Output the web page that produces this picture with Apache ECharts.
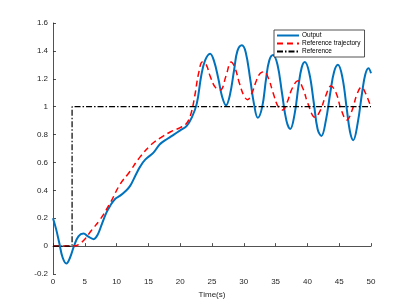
<!DOCTYPE html>
<html>
<head>
<meta charset="utf-8">
<script src="https://cdn.jsdelivr.net/npm/echarts@6/dist/echarts.min.js"></script>
<style>html,body{margin:0;padding:0;background:#fff}#c{width:410px;height:308px}</style>
</head>
<body>
<div id="c"></div>
<script>
const outputT = [0,0.5,1.0,1.5,2.1,2.7,3.3,4.0,4.8,5.5,6.4,7.0,7.7,8.4,9.0,9.8,10.5,11.3,12.1,13.0,13.7,14.5,15.8,16.8,18.0,19.0,20.0,21.0,21.8,22.6,23.3,23.9,24.7,25.3,26.0,26.6,27.2,27.8,28.5,29.0,29.7,30.3,31.0,31.6,32.2,32.9,33.5,34.0,34.6,35.3,36.0,36.7,37.3,38.0,38.6,39.1,39.6,40.3,41.0,41.6,42.2,42.9,43.6,44.2,44.8,45.5,46.2,46.7,47.2,47.9,48.6,49.1,49.6,50.0];
const outputY = [0.20,0.12,0.02,-0.08,-0.125,-0.08,0.0,0.07,0.09,0.07,0.05,0.08,0.16,0.24,0.29,0.34,0.36,0.39,0.43,0.51,0.57,0.62,0.67,0.73,0.77,0.80,0.83,0.86,0.92,1.02,1.22,1.33,1.38,1.33,1.20,1.07,1.01,1.08,1.27,1.40,1.44,1.39,1.20,1.02,0.92,1.00,1.20,1.33,1.37,1.30,1.10,0.90,0.84,0.95,1.15,1.28,1.32,1.24,1.03,0.84,0.79,0.90,1.10,1.25,1.30,1.21,0.98,0.82,0.76,0.88,1.10,1.23,1.275,1.24];
const trajT = [0,3.2,4.0,5.0,6.0,7.4,9.0,10.5,12.0,13.7,15.5,17.0,18.5,20.0,21.0,21.7,22.3,22.9,23.5,24.1,24.7,25.5,26.3,27.2,28.0,28.6,29.3,30.0,30.6,31.3,32.0,32.6,33.2,33.9,34.6,35.4,36.1,36.8,37.6,38.5,39.3,40.1,41.2,42.0,42.9,43.7,44.5,45.3,46.2,47.0,47.8,48.5,49.2,50.0];
const trajY = [0,0,0.01,0.05,0.11,0.19,0.31,0.44,0.53,0.64,0.73,0.78,0.82,0.85,0.88,0.95,1.08,1.24,1.32,1.30,1.22,1.14,1.12,1.22,1.32,1.28,1.17,1.08,1.05,1.10,1.19,1.24,1.25,1.20,1.10,1.00,0.976,1.03,1.13,1.186,1.13,1.02,0.924,0.97,1.08,1.148,1.10,0.98,0.904,0.97,1.09,1.14,1.09,0.995];
const refT = [0,3,3,50];
const refY = [0,0,1,1];
const xTicks = {min:0, max:50, interval:5};
const yTicks = {min:-0.2, max:1.6, interval:0.2};

const zip = (a,b) => a.map((v,i)=>[v,b[i]]);
const font = 'Liberation Sans, Arial, sans-serif';
const axisCol = '#262626';
const chart = echarts.init(document.getElementById('c'), null, {renderer:'canvas'});
chart.setOption({
  animation:false,
  backgroundColor:'#fff',
  grid:{left:53,right:39,top:23,bottom:34,containLabel:false},
  legend:{
    orient:'vertical', left:274, top:30,
    itemWidth:22, itemHeight:8, itemGap:1,
    padding:[2,4,2,2],
    backgroundColor:'#fff', borderColor:'#262626', borderWidth:0.8, borderRadius:0,
    itemStyle:{opacity:0},
    textStyle:{fontFamily:font, fontSize:6.5, color:'#000', padding:[0,0,0,-2]},
    data:['Output','Reference trajectory','Reference']
  },
  xAxis:{
    type:'value', min:xTicks.min, max:xTicks.max, interval:xTicks.interval,
    name:'Time(s)', nameLocation:'middle', nameGap:14,
    nameTextStyle:{fontFamily:font, fontSize:8, color:axisCol},
    axisLine:{lineStyle:{color:axisCol, width:0.8}},
    axisTick:{inside:true, length:3, lineStyle:{color:axisCol, width:0.8}},
    axisLabel:{fontFamily:font, fontSize:8, color:axisCol, margin:4},
    splitLine:{show:false}
  },
  yAxis:{
    type:'value', min:yTicks.min, max:yTicks.max, interval:yTicks.interval,
    axisLine:{show:true, lineStyle:{color:axisCol, width:0.8}},
    axisTick:{show:true, inside:true, length:3, lineStyle:{color:axisCol, width:0.8}},
    axisLabel:{fontFamily:font, fontSize:8, color:axisCol, margin:5},
    splitLine:{show:false}
  },
  series:[
    {name:'Output', type:'line', data:zip(outputT,outputY), showSymbol:false, symbol:'none', smooth:0.4,
     lineStyle:{color:'#0072BD', width:2}, itemStyle:{color:'#0072BD'}, z:3},
    {name:'Reference trajectory', type:'line', data:zip(trajT,trajY), showSymbol:false, symbol:'none', smooth:0.4,
     lineStyle:{color:'#FF0000', width:1.5, type:[6,4]}, itemStyle:{color:'#FF0000'}, z:4},
    {name:'Reference', type:'line', data:zip(refT,refY), showSymbol:false, symbol:'none',
     lineStyle:{color:'#000', width:1.2, type:[6,2,1.5,2]}, itemStyle:{color:'#000'}, z:5}
  ]
});
</script>
</body>
</html>
